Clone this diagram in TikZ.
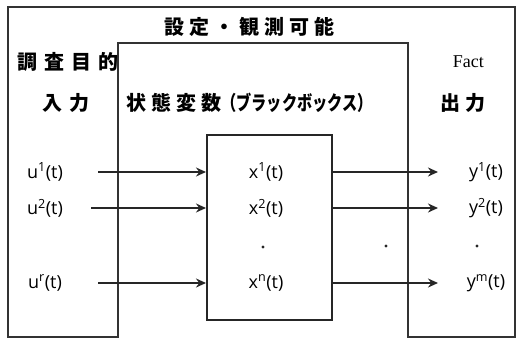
\documentclass[tikz,border=0pt]{standalone}
\usepackage{fontspec}
\setmainfont{Open Sans}
\newfontfamily\cjk[LetterSpace=25]{Noto Sans CJK JP}
\newfontfamily\cjkw[LetterSpace=35]{Noto Sans CJK JP}
\newfontfamily\cjkn{Noto Sans CJK JP}
\newfontfamily\serifr{Liberation Serif}
\usetikzlibrary{arrows.meta}
\begin{document}
\begin{tikzpicture}[x=1pt,y=-1pt,
  frame/.style={draw=black!80,line width=1.2pt},
  bbox/.style={draw=black!85,line width=2pt,minimum width=125pt,minimum height=185pt,inner sep=0pt},
  arr/.style={draw=black!85,line width=1.6pt,-{Stealth[length=10pt,width=9pt]}},
  lab/.style={font=\fontsize{18}{18}\selectfont,inner sep=0pt},
  jp/.style={font=\fontsize{20}{20}\selectfont\cjk\bfseries,inner sep=0pt},
  jpw/.style={font=\fontsize{20}{20}\selectfont\cjkw\bfseries,inner sep=0pt},
  dot/.style={circle,fill=black!85,inner sep=0pt,minimum size=3.4pt}]
\useasboundingbox (0,0) rectangle (516,339);
% frame
\draw[frame] (118,337) -- (8,337) -- (8,7) -- (515,7) -- (515,337) -- (408,337) -- (408,43) -- (118,43) -- cycle;
% black box
\node[bbox] (bb) at (269.5,227.5) {};
% texts
\node[jp,anchor=west] (title) at (164,27) {設定・観測可能};
\node[jpw,anchor=west] (purpose) at (17,62) {調査目的};
\node[jpw,anchor=west] (input) at (42,103) {入力};
\node[jp,anchor=west] (state) at (126,103) {状態変数\scalebox{0.76}[1]{\cjkn\bfseries（ブラックボックス）}};
\node[inner sep=0pt,font=\fontsize{18}{18}\selectfont\serifr,anchor=east] (fact) at (484,62) {Fact};
\node[jp,anchor=west] (output) at (440,103) {出力};
% labels
\node[lab] (u1) at (45,172) {u\textsuperscript{1}(t)};
\node[lab] (u2) at (45,208) {u\textsuperscript{2}(t)};
\node[lab] (ur) at (45,283) {u\textsuperscript{r}(t)};
\node[lab] (x1) at (266,172) {x\textsuperscript{1}(t)};
\node[lab] (x2) at (266,208) {x\textsuperscript{2}(t)};
\node[lab] (xn) at (266,283) {x\textsuperscript{n}(t)};
\node[lab] (y1) at (486,172) {y\textsuperscript{1}(t)};
\node[lab] (y2) at (486,208) {y\textsuperscript{2}(t)};
\node[lab] (ym) at (486,283) {y\textsuperscript{m}(t)};
\node[dot] (d1) at (263,247) {};
\node[dot] (d2) at (386,246) {};
\node[dot] (d3) at (477,246) {};
% arrow ends
\coordinate (a1) at (98,172);
\coordinate (a2) at (91,208);
\coordinate (a3) at (98,283);
\coordinate (b1) at (438,172);
\coordinate (b2) at (438,208);
\coordinate (b3) at (438,283);
\draw[arr] (a1) -- (a1 -| bb.west);
\draw[arr] (a2) -- (a2 -| bb.west);
\draw[arr] (a3) -- (a3 -| bb.west);
\draw[arr] (b1 -| bb.east) -- (b1);
\draw[arr] (b2 -| bb.east) -- (b2);
\draw[arr] (b3 -| bb.east) -- (b3);
\end{tikzpicture}
\end{document}
